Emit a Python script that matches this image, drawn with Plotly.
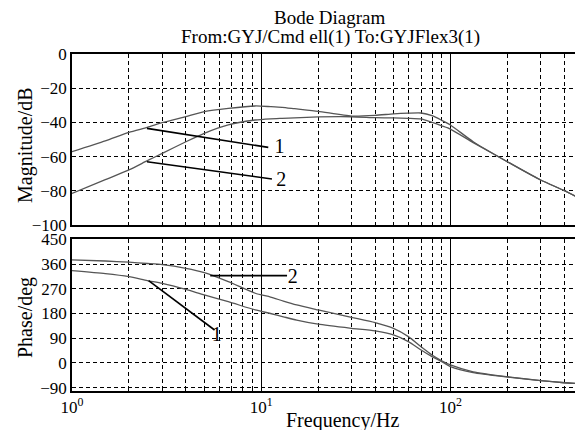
import plotly.graph_objects as go

# ---------------- data ----------------
mag_freq = [1, 1.5, 2, 2.5, 3, 4, 5, 6.7, 9.3, 11.2, 12.9, 15, 20, 30, 40, 50, 60, 70, 80, 90, 100, 132, 200, 300, 400, 503]
mag_curve1 = [-57.1, -50.8, -45.8, -42.9, -40.2, -36.6, -33.7, -31.8, -30.4, -30.8, -31.2, -32.0, -33.5, -36.3, -35.9, -35.0, -34.6, -34.5, -36.1, -38.8, -41.5, -51.3, -63.0, -73.7, -79.9, -85.4]
mag_curve2 = [-81.5, -73.5, -67.8, -62.4, -58.1, -51.3, -46.4, -41.5, -38.6, -37.9, -37.6, -37.3, -36.8, -36.7, -37.2, -37.4, -37.6, -38.0, -40.0, -42.0, -43.9, -51.8, -63.0, -73.7, -79.9, -85.4]

ph_freq = [1, 1.5, 2, 2.5, 3, 4, 5, 6.7, 9.3, 11.2, 13.1, 15.4, 20, 30, 40, 50, 60, 70, 80, 90, 100, 132, 200, 300, 400, 503]
ph_curve2 = [375, 371, 366.6, 362, 358, 344.6, 328.8, 296, 253.7, 240, 225, 211, 193, 166, 146.7, 126, 96, 59, 29, 8, -7, -32, -50, -64, -72, -76]
ph_curve1 = [336, 325, 314, 300, 290, 268, 247.5, 223, 193, 180, 168, 156, 141, 126, 116.5, 102, 77.6, 47, 23, 5, -13, -35, -51, -64, -72, -76]

# leader lines and labels
mag_lead1_f = [2.49, 10.9]
mag_lead1_v = [-43.5, -54.6]
mag_lab1 = (12.5, -55.2, "1")
mag_lead2_f = [2.49, 11.4]
mag_lead2_v = [-63.0, -73.1]
mag_lab2 = (12.76, -74.2, "2")

ph_lead1_f = [2.54, 5.67]
ph_lead1_v = [299.6, 120]
ph_lab1 = (5.82, 98, "1")
ph_lead2_f = [5.38, 13.7]
ph_lead2_v = [318, 318]
ph_lab2 = (14.7, 310, "2")

x_major = [1, 10, 100]
x_major_text = ["10<sup>0</sup>", "10<sup>1</sup>", "10<sup>2</sup>"]
x_minor = [2, 3, 4, 5, 6, 7, 8, 9, 20, 30, 40, 50, 60, 70, 80, 90, 200, 300, 400, 500]
mag_ticks = [0, -20, -40, -60, -80, -100]
ph_ticks = [450, 360, 270, 180, 90, 0, -90]

# ---------------- figure ----------------
FONT = "Liberation Serif, Times New Roman, serif"
curve_col = "#555555"
OFF = 8                       # page body margin of the browser
W, H = 583 - OFF, 430 - OFF
# reference pixel positions (window coordinates)
REF_LEFT, REF_TOP, REF_BOTTOM = 72, 54, 391
L, T = REF_LEFT - OFF, REF_TOP - OFF
B = H - (REF_BOTTOM - OFF)
R = 0

fig = go.Figure()

def curve(x, y, xa, ya, col=curve_col, w=1.3):
    fig.add_trace(go.Scatter(x=x, y=y, mode="lines", xaxis=xa, yaxis=ya,
                             line=dict(color=col, width=w, shape="spline", smoothing=0.6),
                             showlegend=False, hoverinfo="skip"))

def lead(x, y, xa, ya):
    fig.add_trace(go.Scatter(x=x, y=y, mode="lines", xaxis=xa, yaxis=ya,
                             line=dict(color="black", width=1.6),
                             showlegend=False, hoverinfo="skip"))

def label(lab, xa, ya):
    fig.add_trace(go.Scatter(x=[lab[0]], y=[lab[1]], mode="text", text=[lab[2]],
                             textposition="middle center", xaxis=xa, yaxis=ya,
                             textfont=dict(family=FONT, size=20, color="black"),
                             showlegend=False, hoverinfo="skip"))

# magnitude (top)
curve(mag_freq, mag_curve1, "x2", "y")
curve(mag_freq, mag_curve2, "x2", "y")
lead(mag_lead1_f, mag_lead1_v, "x2", "y")
lead(mag_lead2_f, mag_lead2_v, "x2", "y")
label(mag_lab1, "x2", "y")
label(mag_lab2, "x2", "y")

# phase (bottom)
curve(ph_freq, ph_curve2, "x", "y2")
curve(ph_freq, ph_curve1, "x", "y2")
lead(ph_lead1_f, ph_lead1_v, "x", "y2")
lead(ph_lead2_f, ph_lead2_v, "x", "y2")
label(ph_lab1, "x", "y2")
label(ph_lab2, "x", "y2")

plot_h = REF_BOTTOM - REF_TOP
top_dom = [(REF_BOTTOM - 225) / plot_h, 1.0]
bot_dom = [0.0, (REF_BOTTOM - 239.3) / plot_h]
xmax = (583 - 71.7) / 189.3

grid_dash = "4px,3px"
tickfont = dict(family=FONT, size=17, color="black")
xcommon = dict(
    type="log", range=[0, xmax], tickmode="array", tickvals=x_major,
    showgrid=True, gridcolor="black", gridwidth=1.4, griddash="solid",
    showline=True, linecolor="black", linewidth=1.6, mirror=True,
    ticks="inside", ticklen=4, tickcolor="black",
    minor=dict(tickmode="array", tickvals=x_minor, showgrid=True, gridcolor="black",
               gridwidth=1.2, griddash=grid_dash, ticks="inside", ticklen=3, tickcolor="black"),
    zeroline=False,
    tickfont=tickfont,
)
ycommon = dict(
    tickmode="array", showgrid=True, gridcolor="black", gridwidth=1.2, griddash=grid_dash,
    showline=True, linecolor="black", linewidth=1.6, mirror=False,
    ticks="inside", ticklen=4, tickcolor="black", zeroline=False, tickfont=tickfont,
)

fig.update_layout(
    width=W, height=H,
    margin=dict(l=L, r=R, t=T, b=B),
    paper_bgcolor="white", plot_bgcolor="white",
    xaxis=dict(xcommon, anchor="y2", ticktext=x_major_text, showticklabels=True),
    xaxis2=dict(xcommon, anchor="y", ticktext=x_major_text, showticklabels=False, matches="x"),
    yaxis=dict(ycommon, domain=top_dom, range=[-100, 0], tickvals=mag_ticks, anchor="x2"),
    yaxis2=dict(ycommon, domain=bot_dom, range=[-102, 450], tickvals=ph_ticks, anchor="x"),
    font=dict(family=FONT, color="black"),
)

def px_x(px):
    return (px - REF_LEFT) / (583 - REF_LEFT)

def px_y(py):
    return (REF_BOTTOM - py) / plot_h

anns = [
    dict(text="Bode Diagram", x=px_x(330), y=px_y(17), size=19),
    dict(text="From:GYJ/Cmd ell(1) To:GYJFlex3(1)", x=px_x(330), y=px_y(37), size=19),
    dict(text="Frequency/Hz", x=px_x(342), y=px_y(420), size=20),
    dict(text="Magnitude/dB", x=px_x(25), y=px_y(145), size=20, textangle=-90),
    dict(text="Phase/deg", x=px_x(25), y=px_y(318), size=20, textangle=-90),
]
for a in anns:
    size = a.pop("size")
    fig.add_annotation(xref="paper", yref="paper", showarrow=False,
                       xanchor="center", yanchor="middle", borderpad=0,
                       font=dict(family=FONT, size=size, color="black"), **a)

fig.write_html("out.html")
